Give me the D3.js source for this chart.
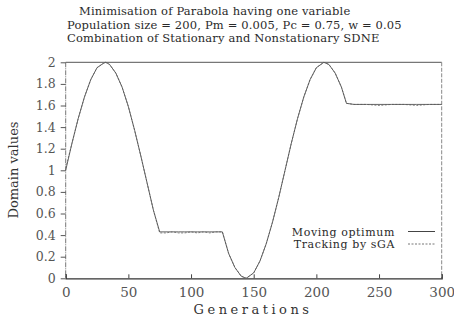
<!DOCTYPE html>
<html>
<head>
<meta charset="utf-8">
<script src="https://cdn.jsdelivr.net/npm/d3@7"></script>
<style>
  html, body { margin: 0; padding: 0; background: #fff; }
  svg { display: block; }
  text { font-family: "DejaVu Serif", "Liberation Serif", serif; }
</style>
</head>
<body>
<svg id="chart" width="454" height="328"></svg>
<script>
// Generations at which the curves are sampled
const generations = [0, 5, 10, 15, 20, 25, 30, 32, 35, 40, 45, 50, 55, 60, 65, 70, 75,
  80, 85, 90, 95, 100, 105, 110, 115, 120, 125,
  130, 135, 140, 144, 150, 155, 160, 165, 170, 175, 180, 185, 190, 195, 200, 206,
  210, 215, 220, 224, 230, 240, 250, 260, 270, 280, 290, 300];

// Position of the moving optimum
const optimum = [1.00, 1.25, 1.48, 1.68, 1.84, 1.95, 1.99, 2.00, 1.98, 1.90, 1.77, 1.59, 1.37, 1.13, 0.88, 0.63, 0.43,
  0.43, 0.43, 0.43, 0.43, 0.43, 0.43, 0.43, 0.43, 0.43, 0.43,
  0.23, 0.10, 0.02, 0.00, 0.05, 0.16, 0.32, 0.52, 0.75, 1.00, 1.25, 1.48, 1.68, 1.84, 1.95, 2.00,
  1.98, 1.90, 1.77, 1.62, 1.61, 1.61, 1.61, 1.61, 1.61, 1.61, 1.61, 1.61];

// Best individual found by the sGA
const tracking = [1.02, 1.25, 1.48, 1.68, 1.84, 1.95, 1.99, 2.00, 1.98, 1.90, 1.77, 1.59, 1.37, 1.13, 0.88, 0.63, 0.42,
  0.42, 0.43, 0.42, 0.42, 0.43, 0.42, 0.43, 0.42, 0.43, 0.43,
  0.23, 0.10, 0.02, 0.00, 0.05, 0.16, 0.32, 0.52, 0.75, 1.00, 1.25, 1.48, 1.68, 1.84, 1.95, 2.00,
  1.98, 1.90, 1.77, 1.62, 1.61, 1.61, 1.60, 1.61, 1.61, 1.60, 1.61, 1.61];

const xTicks = [0, 50, 100, 150, 200, 250, 300];
const yTicks = [0, 0.2, 0.4, 0.6, 0.8, 1, 1.2, 1.4, 1.6, 1.8, 2];

const titleLines = [
  "Minimisation of Parabola having one variable",
  "Population size = 200, Pm = 0.005, Pc = 0.75, w = 0.05",
  "Combination of Stationary and Nonstationary SDNE"
];

const svg = d3.select("#chart");
const plot = { left: 65.7, right: 441.7, top: 62.3, bottom: 278.3 };

const x = d3.scaleLinear().domain([0, 300]).range([plot.left, plot.right]);
const y = d3.scaleLinear().domain([0, 2]).range([plot.bottom, plot.top]);

// Titles
const titleX = [79, 67, 67];
const titleY = [15, 28.5, 42];
titleLines.forEach((t, i) => {
  svg.append("text").attr("x", titleX[i]).attr("y", titleY[i])
    .attr("font-size", 11.5).attr("letter-spacing", 0.15)
    .attr("fill", "#2a2a2a").text(t);
});

// Frame: solid top, broken sides
svg.append("line").attr("x1", x(0)).attr("x2", x(300)).attr("y1", y(2)).attr("y2", y(2))
  .attr("stroke", "#555").attr("stroke-width", 1);
svg.append("line").attr("x1", x(300)).attr("x2", x(300)).attr("y1", y(2)).attr("y2", y(0))
  .attr("stroke", "#888").attr("stroke-width", 1).attr("stroke-dasharray", "4,1.5");
svg.append("line").attr("x1", x(0)).attr("x2", x(0)).attr("y1", y(2)).attr("y2", y(0))
  .attr("stroke", "#777").attr("stroke-width", 1).attr("stroke-dasharray", "5,1,1,1");

// Axes
const xAxis = d3.axisBottom(x).tickValues(xTicks).tickSize(-4).tickPadding(9)
  .tickFormat(d3.format("d"));
const gx = svg.append("g").attr("transform", `translate(0,${plot.bottom})`).call(xAxis);
gx.select(".domain").attr("stroke", "#333").attr("stroke-width", 1.2);
gx.selectAll(".tick line").attr("stroke", "#444");
gx.selectAll(".tick text").attr("font-family", "Liberation Serif, serif")
  .attr("font-size", 13.5).attr("fill", "#555");

const yAxis = d3.axisLeft(y).tickValues(yTicks).tickSize(5).tickPadding(5)
  .tickFormat(d => d3.format("")(d));
const gy = svg.append("g").attr("transform", `translate(${plot.left},0)`).call(yAxis);
gy.select(".domain").remove();
gy.selectAll(".tick line").attr("stroke", "#555");
gy.selectAll(".tick text").attr("font-family", "Liberation Serif, serif")
  .attr("font-size", 12.5).attr("fill", "#555");

// Axis titles
svg.append("text").attr("x", 253).attr("y", 314).attr("text-anchor", "middle")
  .attr("font-family", "Liberation Serif, serif")
  .attr("font-size", 13).attr("letter-spacing", 3.5).attr("fill", "#333").text("Generations");
svg.append("text").attr("transform", "translate(18,170) rotate(-90)")
  .attr("text-anchor", "middle").attr("font-family", "Liberation Serif, serif")
  .attr("font-size", 13).attr("fill", "#333").text("Domain values");

// Curves
const line = d3.line().x((d, i) => x(generations[i])).y(d => y(d));

svg.append("path").datum(tracking).attr("d", line)
  .attr("fill", "none").attr("stroke", "#888").attr("stroke-width", 1)
  .attr("stroke-dasharray", "2,1.5");
svg.append("path").datum(optimum).attr("d", line)
  .attr("fill", "none").attr("stroke", "#555").attr("stroke-width", 0.9);

// Legend
const legend = [
  { label: "Moving optimum", stroke: "#444", dash: null, y: 231.5 },
  { label: "Tracking by sGA", stroke: "#777", dash: "2,1.5", y: 244 }
];
legend.forEach(item => {
  svg.append("text").attr("x", 395).attr("y", item.y + 4).attr("text-anchor", "end")
    .attr("font-size", 11).attr("letter-spacing", 0.6)
    .attr("fill", "#2a2a2a").text(item.label);
  svg.append("line").attr("x1", 408).attr("x2", 435).attr("y1", item.y).attr("y2", item.y)
    .attr("stroke", item.stroke).attr("stroke-width", 1)
    .attr("stroke-dasharray", item.dash);
});
</script>
</body>
</html>
